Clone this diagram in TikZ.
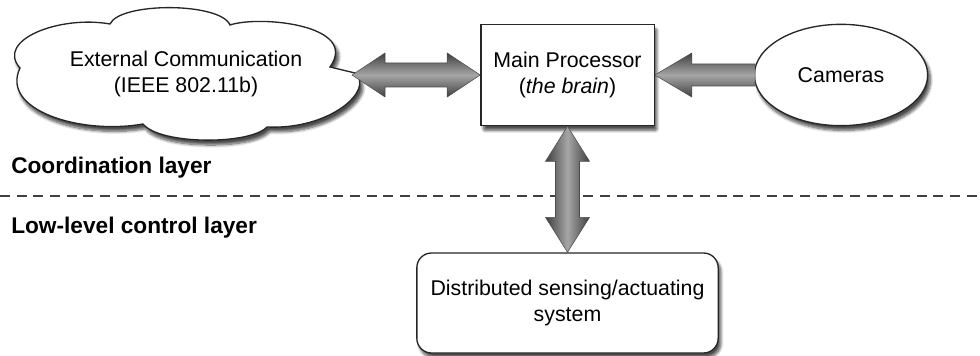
\documentclass[tikz,border=0pt]{standalone}
\usepackage{fontspec}
\setmainfont{Liberation Sans}
\usetikzlibrary{shapes.geometric,shadows.blur,calc}

\tikzset{
  boxtext/.style={font=\fontsize{16}{20}\selectfont, align=center, text=black},
  softshadow/.style={blur shadow={shadow blur steps=8, shadow blur extra rounding=1pt, shadow xshift=2pt, shadow yshift=-3.5pt, shadow opacity=70}},
  shape outline/.style={draw=black!85, line width=1pt, fill=white, softshadow},
  layerlabel/.style={font=\fontsize{17}{20}\selectfont\bfseries, anchor=west, inner sep=0pt},
  harrow/.style={draw=black!70, line width=0.4pt, top color=black!75, bottom color=black!75, middle color=black!35},
  varrow/.style={draw=black!70, line width=0.4pt, left color=black!75, right color=black!75, middle color=black!35},
}

\begin{document}
\begin{tikzpicture}[x=0.75pt, y=-0.75pt]
  \useasboundingbox (0,0) rectangle (980,356);

  % layer separator
  \draw[black!75, line width=1.1pt, dash pattern=on 7.5pt off 5pt] (0,196) -- (980,196);
  \node[layerlabel] (coord) at (11,168) {Coordination layer};
  \node[layerlabel] (low) at (11,228) {Low-level control layer};

  % cloud outline for the external link
  \path[shape outline] (110,24)
    .. controls (120,2) and (220,2) .. (230,25)
    .. controls (260,15) and (360,25) .. (330,67)
    -- (355,73)
    .. controls (375,90) and (330,130) .. (267,127)
    .. controls (250,145) and (160,145) .. (143,124)
    .. controls (80,135) and (0,110) .. (20,68)
    .. controls (-5,40) and (60,15) .. (110,24) -- cycle;
  \node[boxtext] (ext) at (186,74) {External Communication\\(IEEE 802.11b)};

  % nodes
  \node[shape outline, rectangle, minimum width=130pt, minimum height=76pt, boxtext] (mp) at (567.5,75)
        {Main Processor\\(\textit{the brain})};
  \node[shape outline, ellipse, minimum width=130pt, minimum height=76pt, boxtext] (cam) at (841,75)
        {Cameras};
  \node[shape outline, rectangle, rounded corners=11pt, minimum width=226pt, minimum height=75pt, boxtext] (dist) at (567.5,303)
        {Distributed sensing/actuating\\system};

  % free end of the link at the cloud
  \coordinate (exttip) at (352,75);

  % cloud <-> main processor
  \path[harrow] (exttip) -- ($(exttip)+(33,-22)$) -- ($(exttip)+(33,-12)$)
    -- ($(mp.west)+(-33,-12)$) -- ($(mp.west)+(-33,-22)$) -- (mp.west)
    -- ($(mp.west)+(-33,22)$) -- ($(mp.west)+(-33,12)$)
    -- ($(exttip)+(33,12)$) -- ($(exttip)+(33,22)$) -- cycle;

  % cameras -> main processor
  \path[harrow] (mp.east) -- ($(mp.east)+(37,-22)$) -- ($(mp.east)+(37,-11)$)
    -- ($(cam.west)+(1.5,-11)$) -- ($(cam.west)+(1.5,11)$)
    -- ($(mp.east)+(37,11)$) -- ($(mp.east)+(37,22)$) -- cycle;

  % main processor <-> distributed system
  \path[varrow] (mp.south) -- ($(mp.south)+(22,35)$) -- ($(mp.south)+(12,35)$)
    -- ($(dist.north)+(12,-35)$) -- ($(dist.north)+(22,-35)$) -- (dist.north)
    -- ($(dist.north)+(-22,-35)$) -- ($(dist.north)+(-12,-35)$)
    -- ($(mp.south)+(-12,35)$) -- ($(mp.south)+(-22,35)$) -- cycle;
\end{tikzpicture}
\end{document}
